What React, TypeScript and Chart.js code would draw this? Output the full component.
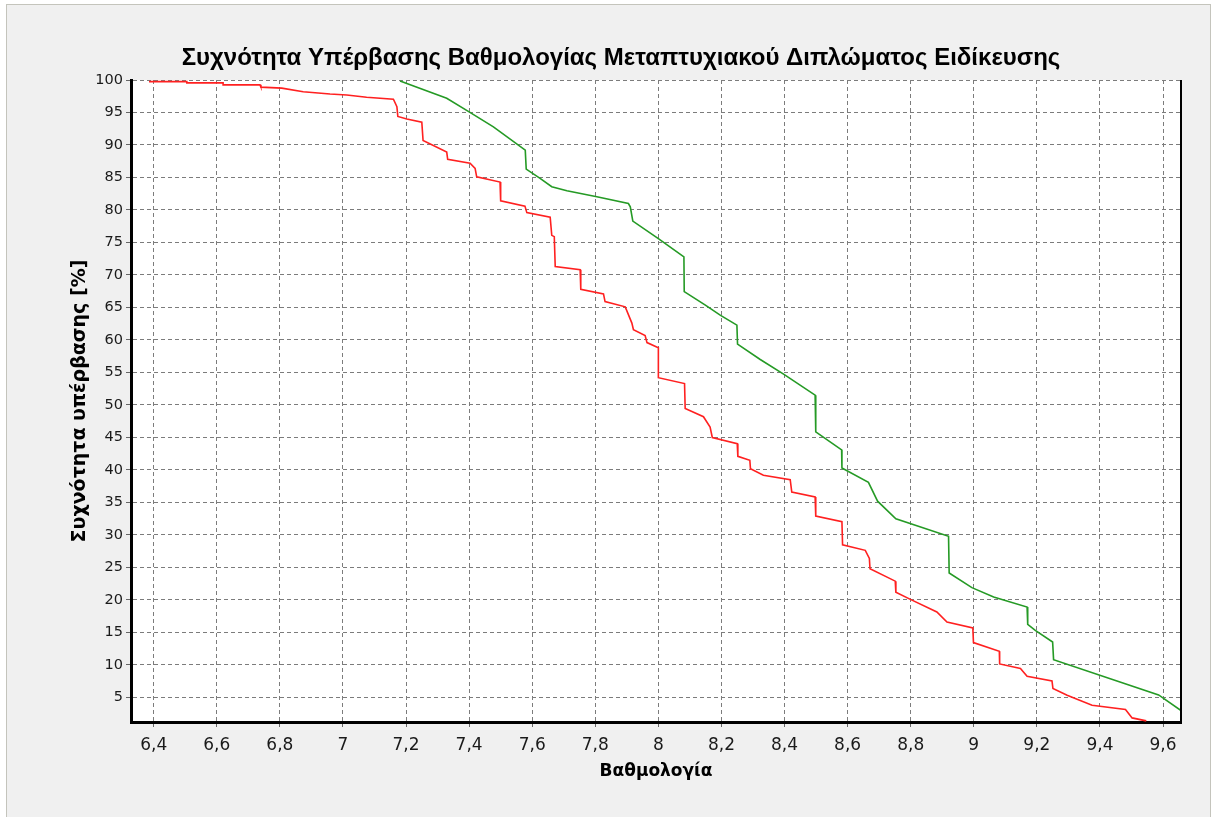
import React, { useEffect, useRef } from "react";
import { Chart, registerables } from "chart.js";

Chart.register(...registerables);

const chartTitle = "Συχνότητα Υπέρβασης Βαθμολογίας Μεταπτυχιακού Διπλώματος Ειδίκευσης";
const xTitle = "Βαθμολογία";
const yTitle = "Συχνότητα υπέρβασης [%]";

const redX = [
  6.385, 6.505, 6.505, 6.62, 6.62, 6.737, 6.74, 6.806, 6.874, 6.959, 7.012, 7.075, 7.16, 7.171, 7.174,
  7.2025, 7.25, 7.254, 7.329, 7.332, 7.403, 7.419, 7.424, 7.498, 7.5, 7.577, 7.583, 7.657, 7.662, 7.67,
  7.673, 7.752, 7.754, 7.826, 7.831, 7.895, 7.916, 7.921, 7.958, 7.964, 8.0, 8.0, 8.083, 8.085, 8.143,
  8.164, 8.171, 8.25, 8.252, 8.29, 8.292, 8.333, 8.418, 8.423, 8.497, 8.499, 8.582, 8.584, 8.656, 8.669,
  8.671, 8.751, 8.753, 8.799, 8.883, 8.915, 8.997, 8.999, 9.081, 9.082, 9.148, 9.169, 9.248, 9.251,
  9.296, 9.375, 9.481, 9.502, 9.547,
];
const redY = [
  99.75, 99.75, 99.55, 99.55, 99.25, 99.25, 98.9, 98.75, 98.2, 97.85, 97.7, 97.35, 97.05, 95.9, 94.4,
  94.0, 93.5, 90.7, 88.9, 87.8, 87.2, 86.4, 85.1, 84.3, 81.4, 80.6, 79.6, 78.9, 76.1, 75.9,
  71.3, 70.8, 67.8, 67.1, 65.9, 65.1, 62.6, 61.6, 60.7, 59.6, 58.8, 54.2, 53.3, 49.45, 48.2,
  46.6, 45.0, 44.06, 42.1, 41.5, 40.2, 39.2, 38.5, 36.6, 35.85, 32.9, 32.05, 28.5, 27.64, 26.4,
  24.8, 22.9, 21.2, 20.1, 18.16, 16.62, 15.7, 13.45, 12.1, 10.16, 9.45, 8.27, 7.55, 6.38,
  5.35, 3.81, 3.15, 1.86, 1.4,
];

const greenX = [
  7.181, 7.329, 7.4, 7.477, 7.578, 7.581, 7.625, 7.662, 7.71, 7.805, 7.905, 7.911, 7.919, 8.0, 8.081,
  8.082, 8.149, 8.196, 8.249, 8.251, 8.323, 8.397, 8.497, 8.499, 8.581, 8.582, 8.666, 8.695, 8.753,
  8.92, 8.922, 8.994, 9.063, 9.169, 9.171, 9.195, 9.25, 9.253, 9.586, 9.657,
];
const greenY = [
  99.85, 97.2, 95.1, 92.8, 89.2, 86.3, 84.87, 83.58, 82.95, 82.04, 81.0, 80.5, 78.3, 75.6, 72.8,
  67.45, 65.36, 63.82, 62.28, 59.36, 57.0, 54.74, 51.51, 45.86, 43.1, 40.3, 38.1, 35.2, 32.5,
  29.8, 24.15, 21.9, 20.45, 18.91, 16.25, 15.32, 13.53, 10.82, 5.4, 3.0,
];

const xTicks = [6.4, 6.6, 6.8, 7.0, 7.2, 7.4, 7.6, 7.8, 8.0, 8.2, 8.4, 8.6, 8.8, 9.0, 9.2, 9.4, 9.6];
const xTickLabels = ["6,4", "6,6", "6,8", "7", "7,2", "7,4", "7,6", "7,8", "8", "8,2", "8,4", "8,6", "8,8", "9", "9,2", "9,4", "9,6"];
const yTicks = [5, 10, 15, 20, 25, 30, 35, 40, 45, 50, 55, 60, 65, 70, 75, 80, 85, 90, 95, 100];
const xRange = [6.328, 9.657];
const yRange = [1.23, 100];

const zip = (xs: number[], ys: number[]) => xs.map((x, i) => ({ x, y: ys[i] }));

const framePlugin = {
  id: "framePlugin",
  beforeDraw(chart: any) {
    const { ctx, chartArea: a } = chart;
    ctx.save();
    ctx.fillStyle = "#ffffff";
    ctx.fillRect(a.left, a.top, a.right - a.left, a.bottom - a.top);
    ctx.restore();
  },
  afterDraw(chart: any) {
    const { ctx, chartArea: a } = chart;
    ctx.save();
    ctx.strokeStyle = "#000000";
    ctx.lineWidth = 2;
    ctx.beginPath();
    ctx.moveTo(a.right, a.top);
    ctx.lineTo(a.right, a.bottom + 1);
    ctx.stroke();
    ctx.restore();
  },
};

export default function App() {
  const ref = useRef<HTMLCanvasElement | null>(null);

  useEffect(() => {
    if (!ref.current) return;
    const chart = new Chart(ref.current, {
      type: "scatter",
      data: {
        datasets: [
          {
            label: "red",
            data: zip(redX, redY),
            showLine: true,
            borderColor: "#ff2020",
            borderWidth: 1.6,
            pointRadius: 0,
            tension: 0,
          },
          {
            label: "green",
            data: zip(greenX, greenY),
            showLine: true,
            borderColor: "#259a25",
            borderWidth: 1.6,
            pointRadius: 0,
            tension: 0,
          },
        ],
      },
      options: {
        responsive: false,
        animation: false,
        devicePixelRatio: 1,
        layout: { padding: { left: 61, right: 33, top: 10, bottom: 30 } },
        plugins: {
          legend: { display: false },
          tooltip: { enabled: false },
          title: {
            display: true,
            text: chartTitle,
            color: "#000",
            font: { family: "'Liberation Sans', Arial, sans-serif", size: 24, weight: "bold" },
            padding: { top: 33.6, bottom: 7.6 },
          },
        },
        scales: {
          x: {
            type: "linear",
            min: xRange[0],
            max: xRange[1],
            afterBuildTicks: (s: any) => {
              s.ticks = xTicks.map((v) => ({ value: v }));
            },
            afterFit: (s: any) => {
              s.height = 65;
            },
            ticks: {
              includeBounds: false,
              autoSkip: false,
              maxRotation: 0,
              padding: 8,
              color: "#1a1a1a",
              font: { family: "'DejaVu Sans', sans-serif", size: 17 },
              callback: (v: any) => {
                const i = xTicks.findIndex((t) => Math.abs(t - Number(v)) < 1e-6);
                return i >= 0 ? xTickLabels[i] : "";
              },
            },
            grid: { color: "#7c7c7c", lineWidth: 1, tickLength: 5, tickColor: "#666" },
            border: { display: true, color: "#000", width: 3, dash: [4, 3] },
            title: {
              display: true,
              text: xTitle,
              color: "#000",
              font: { family: "'DejaVu Sans', sans-serif", size: 17, weight: "bold" },
              padding: { top: 0, bottom: 4.8 },
            },
          },
          y: {
            type: "linear",
            min: yRange[0],
            max: yRange[1],
            afterBuildTicks: (s: any) => {
              s.ticks = yTicks.map((v) => ({ value: v }));
            },
            afterFit: (s: any) => {
              s.width = 70;
            },
            ticks: {
              includeBounds: false,
              autoSkip: false,
              padding: 3,
              color: "#1a1a1a",
              font: { family: "'DejaVu Sans', sans-serif", size: 14.5 },
              callback: (v: any) => String(v),
            },
            grid: { color: "#7c7c7c", lineWidth: 1, tickLength: 5, tickColor: "#666" },
            border: { display: true, color: "#000", width: 3, dash: [4, 3] },
            title: {
              display: true,
              text: yTitle,
              color: "#000",
              font: { family: "'DejaVu Sans', sans-serif", size: 19, weight: "bold" },
              padding: { top: 7.6, bottom: 0 },
            },
          },
        },
      },
      plugins: [framePlugin],
    } as any);
    return () => chart.destroy();
  }, []);

  return (
    <div style={{ position: "fixed", left: 0, top: 0, width: 1214, height: 817, background: "#ffffff", overflow: "hidden" }}>
      <div
        style={{
          position: "absolute",
          left: 6,
          top: 4,
          width: 1205,
          height: 820,
          boxSizing: "border-box",
          border: "1px solid #c4c4bc",
          background: "#f0f0f0",
        }}
      />
      <canvas ref={ref} width={1214} height={817} style={{ position: "absolute", left: 0, top: 0, width: 1214, height: 817 }} />
    </div>
  );
}
